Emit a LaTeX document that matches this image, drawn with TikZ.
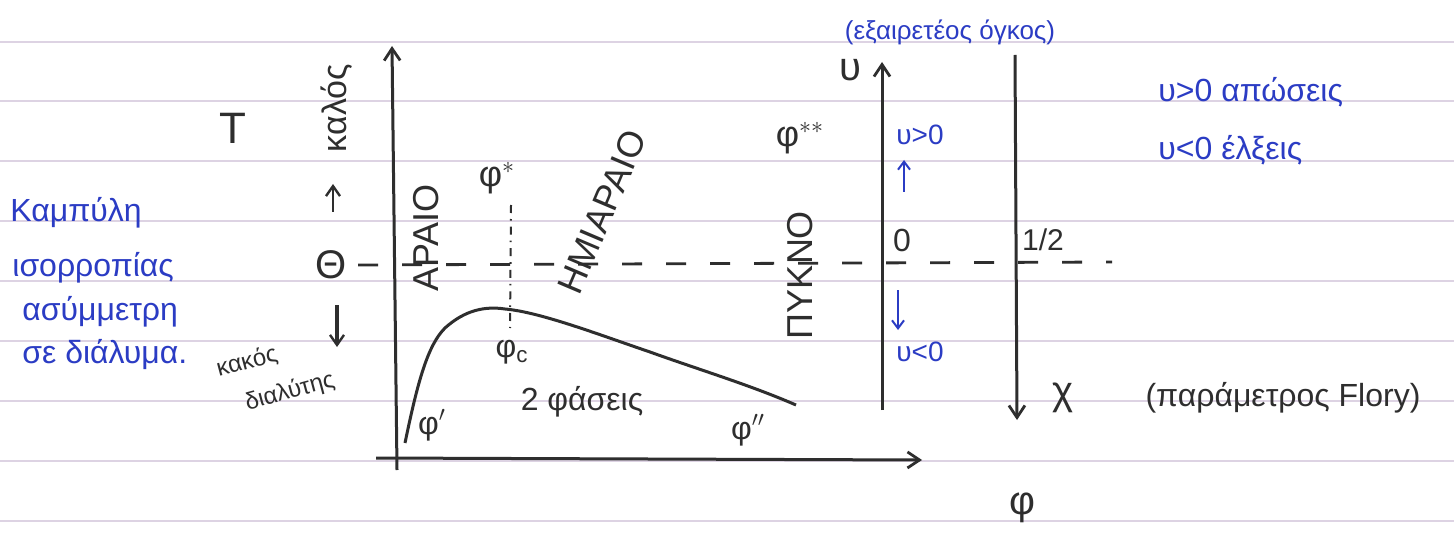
\documentclass[tikz,border=0pt]{standalone}
\usepackage{fontspec}
\setmainfont{Liberation Sans}
\usetikzlibrary{arrows.meta}
\definecolor{ink}{HTML}{2E2E2E}
\definecolor{pen}{HTML}{2B3CC4}
\definecolor{rule}{HTML}{DDD3E3}
\tikzset{
  axis/.style={draw=ink, line width=1.5pt, -{Straight Barb[length=6pt,width=8pt,line width=1.4pt]}},
  curveline/.style={draw=ink, line width=1.5pt},
  blk/.style={text=ink, inner sep=0pt},
  blu/.style={text=pen, inner sep=0pt},
  bluarrow/.style={draw=pen, line width=1.1pt, -{Straight Barb[length=4pt,width=6pt,line width=1pt]}},
  blkarrow/.style={draw=ink, line width=1.3pt, -{Straight Barb[length=5pt,width=7pt,line width=1.2pt]}},
  ruleline/.style={draw=rule, line width=0.6pt},
}
\begin{document}
\begin{tikzpicture}[x=0.5pt,y=-0.5pt]
\useasboundingbox (0,0) rectangle (1454,534);
\fill[white] (0,0) rectangle (1454,534);
% ruled paper
\foreach \yy in {42,101,161,221,281,341,401,461,521}
  \draw[ruleline] (0,\yy) -- (1454,\yy);

% axes
\coordinate (Tbot) at (397,470);
\coordinate (Ttop) at (392,46);
\coordinate (Xl) at (376,458);
\coordinate (Xr) at (922,460);
\draw[axis] (Tbot) -- (Ttop);
\draw[axis] (Xl) -- (Xr);

\coordinate (Vbot) at (882,410);
\coordinate (Vtop) at (882,62);
\draw[axis] (Vbot) -- (Vtop);

\coordinate (Ctop) at (1015,55);
\coordinate (Cbot) at (1017,420);
\draw[axis] (Ctop) -- (Cbot);

% theta dashed line
\coordinate (Dl) at (358,265);
\coordinate (Dr) at (1112,262);
\draw[ink, line width=1.4pt, dash pattern=on 10pt off 12pt] (Dl) -- (Dr);

% phi* dotted line
\coordinate (Pt) at (511,205);
\coordinate (Pb) at (510,328);
\draw[ink, line width=1pt, dash pattern=on 4pt off 3pt on 0.8pt off 3pt] (Pt) -- (Pb);

% coexistence curve
\draw[curveline] (405,443) .. controls (418,380) and (428,345) .. (445,328)
  .. controls (465,310) and (485,306) .. (505,309)
  .. controls (540,312) and (600,335) .. (650,352)
  .. controls (700,370) and (750,385) .. (796,405);

% left blue text
\node[blu, font=\fontsize{16}{18}\selectfont, anchor=west] (t1) at (10,213) {Καμπύλη};
\node[blu, font=\fontsize{16}{18}\selectfont, anchor=west] (t2) at (12,268) {ισορροπίας};
\node[blu, font=\fontsize{16}{18}\selectfont, anchor=west] (t3) at (22,312) {ασύμμετρη};
\node[blu, font=\fontsize{16}{18}\selectfont, anchor=west] (t4) at (22,355) {σε διάλυμα.};

% T side labels
\node[blk, font=\fontsize{22}{24}\selectfont] (T) at (233,128) {T};
\node[blk, font=\fontsize{17}{19}\selectfont, rotate=90] (kalos) at (337,108) {καλός};
\coordinate (ua1) at (333,212);
\coordinate (ua2) at (333,184);
\draw[blkarrow] (ua1) -- (ua2);
\node[blk, font=\fontsize{20}{22}\selectfont] (Theta) at (331,265) {Θ};
\coordinate (da1) at (337,305);
\coordinate (da2) at (337,347);
\draw[blkarrow, line width=1.6pt] (da1) -- (da2);
\node[blk, font=\fontsize{12}{14}\selectfont, rotate=15] (kakos) at (247,362) {κακός};
\node[blk, font=\fontsize{12}{14}\selectfont, rotate=15] (dial) at (290,392) {διαλύτης};

% region labels
\node[blk, font=\fontsize{18}{20}\selectfont, rotate=90] (araio) at (426,238) {ΑΡΑΙΟ};
\node[blk, font=\fontsize{18}{20}\selectfont, rotate=67] (hmi) at (602,212) {ΗΜΙΑΡΑΙΟ};
\node[blk, font=\fontsize{18}{20}\selectfont, rotate=90] (pykno) at (800,275) {ΠΥΚΝΟ};
\node[blk, font=\fontsize{18}{20}\selectfont] (phis) at (497,178) {φ$^{*}$};
\node[blk, font=\fontsize{18}{20}\selectfont] (phiss) at (800,138) {φ$^{**}$};
\node[blk, font=\fontsize{16}{18}\selectfont] (phic) at (512,352) {φ$_{\mathrm{c}}$};
\node[blk, font=\fontsize{16}{18}\selectfont] (phi1) at (432,425) {φ$'$};
\node[blk, font=\fontsize{16}{18}\selectfont] (two) at (582,402) {2 φάσεις};
\node[blk, font=\fontsize{16}{18}\selectfont] (phi2) at (748,430) {φ$''$};
\node[blk, font=\fontsize{20}{22}\selectfont] (phi) at (1022,508) {φ};

% upsilon axis labels
\node[blk, font=\fontsize{20}{22}\selectfont] (ups) at (850,70) {υ};
\node[blu, font=\fontsize{13}{15}\selectfont] (excl) at (950,32) {(εξαιρετέος όγκος)};
\node[blu, font=\fontsize{14}{16}\selectfont] (vpos) at (920,135) {υ>0};
\coordinate (ba1) at (904,192);
\coordinate (ba2) at (904,160);
\draw[bluarrow] (ba1) -- (ba2);
\node[blk, font=\fontsize{16}{18}\selectfont] (zero) at (902,240) {0};
\coordinate (bb1) at (898,290);
\coordinate (bb2) at (898,330);
\draw[bluarrow] (bb1) -- (bb2);
\node[blu, font=\fontsize{14}{16}\selectfont] (vneg) at (920,352) {υ<0};

% chi axis labels
\node[blk, font=\fontsize{15}{17}\selectfont] (half) at (1043,240) {1/2};
\node[blk, font=\fontsize{20}{22}\selectfont] (chi) at (1063,398) {χ};
\node[blk, font=\fontsize{16}{18}\selectfont] (flory) at (1283,398) {(παράμετρος Flory)};

% right blue notes
\node[blu, font=\fontsize{16}{18}\selectfont, anchor=west] (n1) at (1158,92) {υ>0 απώσεις};
\node[blu, font=\fontsize{16}{18}\selectfont, anchor=west] (n2) at (1158,150) {υ<0 έλξεις};
\end{tikzpicture}
\end{document}
